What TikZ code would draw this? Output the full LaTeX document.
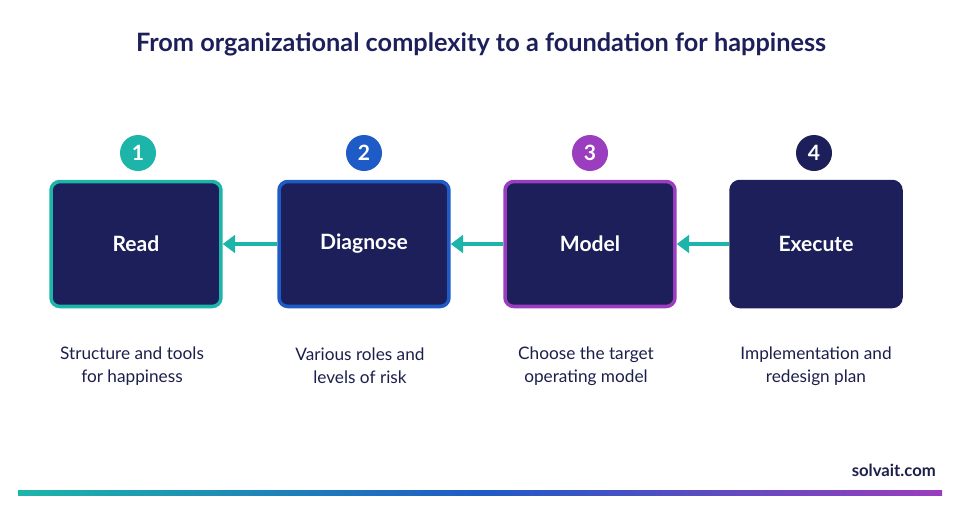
\documentclass[tikz,border=0pt]{standalone}
\usepackage{fontspec}
\setmainfont{Lato}
\usetikzlibrary{arrows.meta}
\definecolor{navy}{HTML}{1C1F5A}
\definecolor{tealc}{HTML}{1DB5A9}
\definecolor{bluec}{HTML}{1F5BC6}
\definecolor{purplec}{HTML}{9A3DBE}
\definecolor{textc}{HTML}{1C1F4A}
\tikzset{
  step/.style={draw=#1,line width=2pt,fill=navy,rounded corners=5pt,
    minimum width=3.4cm,minimum height=2.5cm,text=white,font=\bfseries\fontsize{12}{14}\selectfont},
  num/.style={circle,fill=#1,minimum size=0.72cm,inner sep=0pt,text=white,font=\bfseries\fontsize{12}{13}\selectfont},
  desc/.style={align=center,text=textc,font=\fontsize{9.8}{13.2}\selectfont},
  flow/.style={tealc,line width=2pt,-{Triangle[length=7pt,width=10pt]}}
}
\begin{document}
\begin{tikzpicture}[x=0.02cm,y=-0.02cm]
\useasboundingbox (0,0) rectangle (960,512);
\node[text=navy,font=\bfseries\fontsize{14.4}{16}\selectfont] (title) at (481,44) {From organizational complexity to a foundation for happiness};

\node[step=tealc] (read) at (136,244) {Read};
\node[step=bluec] (diag) at (364,244) {Diagnose};
\node[step=purplec] (model) at (590,244) {Model};
\node[step=navy] (exec) at (816,244) {Execute};

\node[num=tealc] (n1) at (138,153) {1};
\node[num=bluec] (n2) at (364,153) {2};
\node[num=purplec] (n3) at (590,153) {3};
\node[num=navy] (n4) at (814,153) {4};

\draw[flow] (diag.west) -- (read.east);
\draw[flow] (model.west) -- (diag.east);
\draw[flow] (exec.west) -- (model.east);

\node[desc] (d1) at (132,366) {Structure and tools\\for happiness};
\node[desc] (d2) at (360,366) {Various roles and\\levels of risk};
\node[desc] (d3) at (586,366) {Choose the target\\operating model};
\node[desc] (d4) at (816,366) {Implementation and\\redesign plan};

\node[anchor=east,text=textc,font=\bfseries\fontsize{9.5}{11}\selectfont] (site) at (942,470) {solvait.com};
\shade[left color=tealc,right color=purplec,middle color=bluec] (18,490) rectangle (942,495);
\end{tikzpicture}
\end{document}
